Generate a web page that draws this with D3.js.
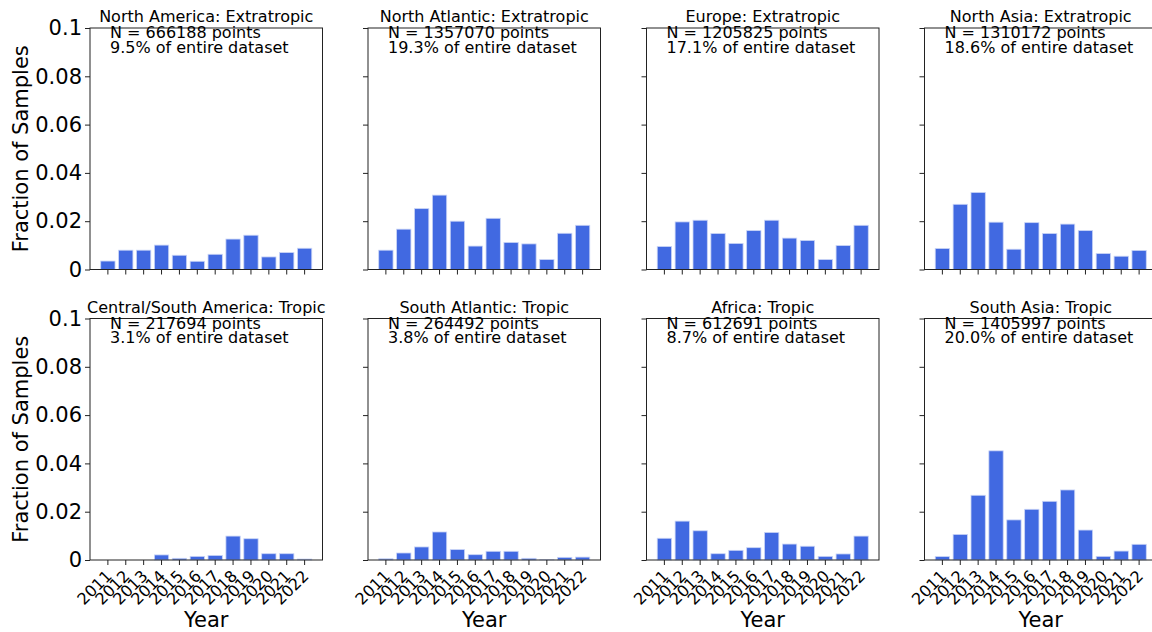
<!DOCTYPE html>
<html>
    <head>
        <script src="https://d3js.org/d3.v7.min.js"></script>
        <style>
            body { margin: 0; background: #fff; }
            text { font-family: "DejaVu Sans", sans-serif; fill: #000; }
        </style>
    </head>
    <body>
        <svg width="1152" height="632" id="mainSvg"></svg>
        <script>
            const years = ["2011", "2012", "2013", "2014", "2015", "2016", "2017", "2018", "2019", "2020", "2021", "2022"]
            const yTicks = [0, 0.02, 0.04, 0.06, 0.08, 0.1]
            const yTickLabels = ["0", "0.02", "0.04", "0.06", "0.08", "0.1"]

            const regionNames = [
                "North America: Extratropic", "North Atlantic: Extratropic", "Europe: Extratropic", "North Asia: Extratropic",
                "Central/South America: Tropic", "South Atlantic: Tropic", "Africa: Tropic", "South Asia: Tropic"
            ]
            const pointCounts = [666188, 1357070, 1205825, 1310172, 217694, 264492, 612691, 1405997]
            const datasetShares = ["9.5", "19.3", "17.1", "18.6", "3.1", "3.8", "8.7", "20.0"]

            // fraction of samples per year
            const northAmerica = [0.0035, 0.0080, 0.0080, 0.0101, 0.0059, 0.0034, 0.0063, 0.0126, 0.0142, 0.0052, 0.0070, 0.0088]
            const northAtlantic = [0.0080, 0.0167, 0.0252, 0.0308, 0.0200, 0.0097, 0.0212, 0.0112, 0.0106, 0.0041, 0.0150, 0.0183]
            const europe = [0.0095, 0.0197, 0.0204, 0.0149, 0.0108, 0.0161, 0.0204, 0.0130, 0.0120, 0.0041, 0.0099, 0.0183]
            const northAsia = [0.0087, 0.0270, 0.0319, 0.0196, 0.0084, 0.0194, 0.0149, 0.0188, 0.0161, 0.0066, 0.0055, 0.0079]
            const centralSouthAmerica = [0, 0, 0, 0.0021, 0.0007, 0.0015, 0.0019, 0.0099, 0.0088, 0.0026, 0.0026, 0.0004]
            const southAtlantic = [0.0005, 0.0029, 0.0054, 0.0116, 0.0043, 0.0022, 0.0036, 0.0036, 0.0007, 0.0001, 0.0011, 0.0012]
            const africa = [0.0090, 0.0161, 0.0121, 0.0026, 0.0040, 0.0051, 0.0114, 0.0066, 0.0057, 0.0015, 0.0025, 0.0099]
            const southAsia = [0.0014, 0.0106, 0.0268, 0.0452, 0.0166, 0.0210, 0.0243, 0.0290, 0.0124, 0.0015, 0.0037, 0.0065]

            const seriesList = [northAmerica, northAtlantic, europe, northAsia, centralSouthAmerica, southAtlantic, africa, southAsia]

            const mainSvg = d3.select("#mainSvg")

            // panel layout
            const panelWidth = 232.5
            const panelHeight = 241.5
            const colLeft = [90, 368, 646.5, 924.5]
            const rowTop = [28, 318.5]

            const xScale = d3.scaleBand()
                .domain(years)
                .range([0, panelWidth])
                .paddingInner(0.2)
                .paddingOuter(0.6)

            const yScale = d3.scaleLinear()
                .domain([0, 0.1])
                .range([panelHeight, 0])

            seriesList.forEach((values, i) => {
                const col = i % 4
                const row = Math.floor(i / 4)
                const g = mainSvg.append("g")
                    .attr("transform", `translate(${colLeft[col]}, ${rowTop[row]})`)

                // bars
                g.selectAll(".bar").data(values.map((v, j) => ({year: years[j], value: v})))
                    .enter().append("rect")
                    .attr("class", "bar")
                    .attr("x", d => xScale(d.year))
                    .attr("width", xScale.bandwidth())
                    .attr("y", d => yScale(d.value))
                    .attr("height", d => panelHeight - yScale(d.value))
                    .attr("fill", "#4169e1")
                    .attr("stroke", d => d.value > 0 ? "#c9d4f6" : "none")
                    .attr("stroke-width", 0.8)

                // axes
                const yAxis = d3.axisLeft(yScale).tickValues(yTicks).tickSize(5).tickPadding(3)
                    .tickFormat((d, k) => col === 0 ? yTickLabels[k] : "")
                const yG = g.append("g").call(yAxis)
                yG.selectAll("text").attr("font-size", 21)

                const xAxis = d3.axisBottom(xScale).tickSize(5).tickFormat(d => row === 1 ? d : "")
                const xG = g.append("g").attr("transform", `translate(0, ${panelHeight})`).call(xAxis)
                xG.selectAll("text")
                    .attr("font-size", 16)
                    .attr("text-anchor", "end")
                    .attr("dy", null)
                    .attr("y", 0)
                    .attr("transform", "translate(5, 17) rotate(-45)")

                g.selectAll(".domain").remove()
                g.selectAll(".tick line").attr("stroke", "#222")

                // frame
                g.append("rect")
                    .attr("width", panelWidth)
                    .attr("height", panelHeight)
                    .attr("fill", "none")
                    .attr("stroke", "#222")
                    .attr("stroke-width", 1)

                // title
                g.append("text")
                    .text(regionNames[i])
                    .attr("x", panelWidth / 2)
                    .attr("y", -6)
                    .attr("text-anchor", "middle")
                    .attr("font-size", 16)

                // annotation
                g.append("text")
                    .text(`N = ${pointCounts[i]} points`)
                    .attr("x", 20)
                    .attr("y", 10)
                    .attr("font-size", 16)
                g.append("text")
                    .text(`${datasetShares[i]}% of entire dataset`)
                    .attr("x", 20)
                    .attr("y", 24.5)
                    .attr("font-size", 16)

                if (col === 0) {
                    g.append("text")
                        .text("Fraction of Samples")
                        .attr("font-size", 21)
                        .attr("text-anchor", "middle")
                        .attr("transform", `translate(${28 - colLeft[0]}, ${panelHeight / 2}) rotate(-90)`)
                }
                if (row === 1) {
                    g.append("text")
                        .text("Year")
                        .attr("font-size", 21)
                        .attr("text-anchor", "middle")
                        .attr("x", panelWidth / 2)
                        .attr("y", 627 - rowTop[1])
                }
            })
        </script>
    </body>
</html>
